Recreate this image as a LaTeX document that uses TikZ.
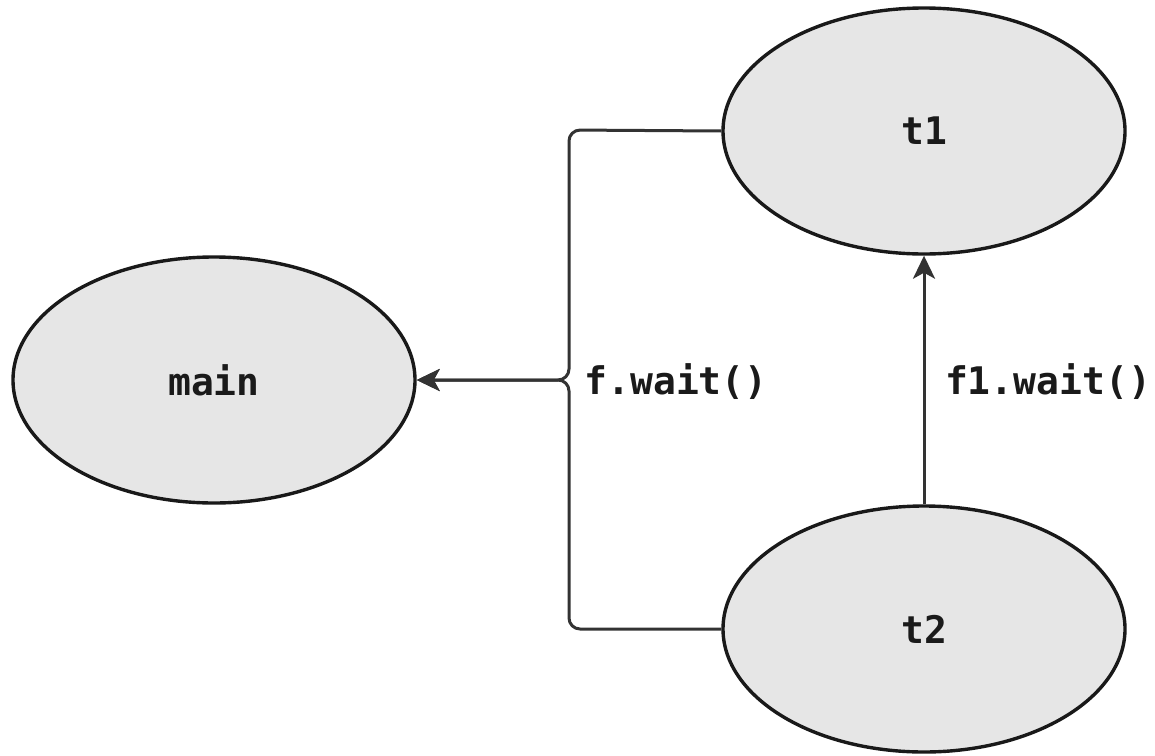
\documentclass[tikz,border=0pt]{standalone}
\usepackage{fontspec}
\setmonofont{DejaVu Sans Mono}
\usetikzlibrary{arrows.meta,shapes.geometric}
\definecolor{nodefill}{HTML}{E6E6E6}
\definecolor{edgecol}{HTML}{333333}
\definecolor{txtcol}{HTML}{1A1A1A}
\tikzset{
  proc/.style={ellipse, draw=black!90, line width=3.4pt, fill=nodefill,
    minimum width=402pt, minimum height=246pt, inner sep=0pt,
    font=\fontsize{38}{40}\selectfont\ttfamily\bfseries, text=txtcol},
  conn/.style={draw=edgecol, line width=3pt, rounded corners=11pt,
    -{Stealth[length=23pt,width=22pt,inset=6pt]}},
  lbl/.style={font=\fontsize{38}{40}\selectfont\ttfamily\bfseries, text=txtcol, inner sep=0pt}
}
\begin{document}
\begin{tikzpicture}[x=1pt,y=-1pt]
\useasboundingbox (0,0) rectangle (1155,755);
\node[proc] (main) at (214,380) {main};
\node[proc] (t1) at (924,131) {t1};
\node[proc] (t2) at (924,629) {t2};
\coordinate (jt) at (569,130);
\coordinate (jm) at (569,380);
\coordinate (jb) at (569,629);
\draw[conn] (t1.west) -- (jt) -- (jm) -- (main.east);
\draw[conn] (t2.west) -- (jb) -- (jm) -- (main.east);
\draw[conn] (t2.north) -- (t1.south);
\node[lbl] (l1) at (676,382) {f.wait()};
\node[lbl] (l2) at (1048,382) {f1.wait()};
\end{tikzpicture}
\end{document}
